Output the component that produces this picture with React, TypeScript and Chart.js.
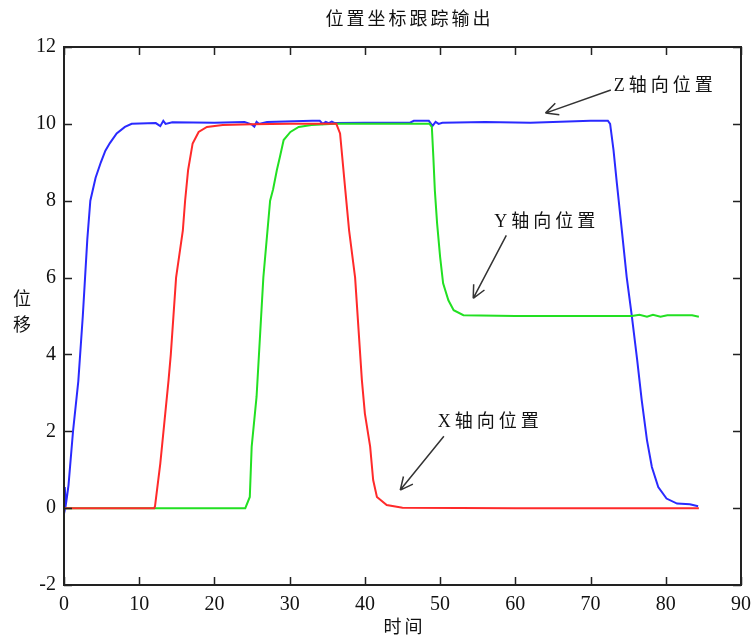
import React, { useEffect, useRef } from "react";
import { Chart, registerables } from "chart.js";

Chart.register(...registerables);

// ---- data ----
const chartTitle = "位置坐标跟踪输出";
const xAxisTitle = "时间";
const yAxisTitle = ["位", "移"];

const xTicks = [0, 10, 20, 30, 40, 50, 60, 70, 80, 90];
const yTicks = [-2, 0, 2, 4, 6, 8, 10, 12];

// X axis position (red)
const tX = [0, 12.0, 12.1, 12.8, 13.9, 14.2, 14.9, 15.8, 16.1, 16.5, 17.1, 17.9, 19.0, 21.1, 25, 30, 36.2, 36.7, 37.4, 37.9, 38.7, 39.6, 40.0, 40.7, 41.1, 41.6, 42.9, 45.0, 60, 84.4];
const xPos = [0, 0, 0.05, 1.16, 3.33, 4.0, 6.0, 7.23, 8.0, 8.8, 9.49, 9.79, 9.92, 9.97, 9.99, 10.0, 10.0, 9.75, 8.27, 7.23, 6.0, 3.33, 2.46, 1.6, 0.73, 0.29, 0.08, 0.01, 0, 0];

// Y axis position (green)
const tY = [0, 24.1, 24.7, 24.95, 25.6, 26.5, 27.4, 27.8, 28.3, 28.7, 29.2, 30.1, 31.2, 32.9, 36, 40, 48.6, 48.9, 49.1, 49.3, 49.6, 50.0, 50.4, 51.1, 51.8, 53.1, 60, 70, 75.5, 76.5, 77.5, 78.3, 79.3, 80.2, 83.5, 84.4];
const yPos = [0, 0, 0.29, 1.6, 2.9, 6.0, 8.0, 8.3, 8.8, 9.14, 9.58, 9.79, 9.92, 9.97, 10.0, 10.0, 10.0, 9.92, 9.14, 8.27, 7.41, 6.54, 5.85, 5.41, 5.15, 5.02, 5.0, 5.0, 5.0, 5.03, 4.98, 5.03, 4.98, 5.02, 5.02, 4.98];

// Z axis position (blue)
const tZ = [0, 0.1, 0.25, 0.4, 0.6, 1.2, 1.9, 2.5, 2.8, 3.1, 3.5, 4.2, 4.9, 5.5, 6.1, 7.0, 8.1, 9.0, 12.2, 12.8, 13.2, 13.5, 14.4, 20, 24, 25.0, 25.3, 25.6, 25.9, 27, 33, 34, 34.4, 34.8, 35.2, 35.6, 36, 40, 46, 46.5, 48.5, 49.0, 49.4, 49.8, 50.3, 56, 62, 70, 72.3, 72.6, 73.05, 73.5, 74.2, 74.8, 75.5, 76.2, 76.8, 77.5, 78.15, 79.0, 80.1, 81.5, 83.2, 84.3];
const zPos = [0, 0.55, 0.1, 0.3, 0.6, 2.0, 3.3, 5.0, 6.0, 7.0, 8.0, 8.6, 9.0, 9.3, 9.5, 9.75, 9.92, 10.0, 10.02, 9.94, 10.08, 10.0, 10.04, 10.03, 10.05, 9.98, 9.93, 10.05, 10.0, 10.05, 10.08, 10.08, 10.0, 10.05, 10.02, 10.06, 10.02, 10.03, 10.03, 10.08, 10.08, 9.95, 10.05, 10.0, 10.03, 10.05, 10.03, 10.08, 10.08, 10.0, 9.32, 8.45, 7.15, 6.02, 4.98, 3.85, 2.81, 1.77, 1.07, 0.55, 0.25, 0.12, 0.1, 0.05];

// annotations: label text, label anchor (data units), arrow start and tip (data units)
const noteTexts = ["Z轴向位置", "Y轴向位置", "X轴向位置"];
const noteLabelX = [73.1, 57.2, 49.7];
const noteLabelY = [10.98, 7.44, 2.24];
const arrowFromX = [72.7, 58.8, 50.5];
const arrowFromY = [10.88, 7.1, 1.87];
const arrowToX = [64.0, 54.4, 44.7];
const arrowToY = [10.28, 5.46, 0.47];

const SERIF = "'Liberation Serif', 'Noto Sans CJK SC', serif";

const toPoints = (t: number[], v: number[]) => t.map((x, i) => ({ x, y: v[i] }));

const decorPlugin = {
  id: "decor",
  afterDraw(chart: any) {
    const { ctx, chartArea: a, scales } = chart;
    const xs = scales.x;
    const ys = scales.y;
    ctx.save();
    // frame
    ctx.strokeStyle = "#222";
    ctx.lineWidth = 2;
    ctx.strokeRect(a.left, a.top, a.right - a.left, a.bottom - a.top);
    // inward ticks
    const tl = 8;
    ctx.lineWidth = 1.5;
    ctx.beginPath();
    xTicks.forEach((v) => {
      const px = Math.round(xs.getPixelForValue(v)) + 0.5;
      ctx.moveTo(px, a.bottom);
      ctx.lineTo(px, a.bottom - tl);
      ctx.moveTo(px, a.top);
      ctx.lineTo(px, a.top + tl);
    });
    yTicks.forEach((v) => {
      const py = Math.round(ys.getPixelForValue(v)) + 0.5;
      ctx.moveTo(a.left, py);
      ctx.lineTo(a.left + tl, py);
      ctx.moveTo(a.right, py);
      ctx.lineTo(a.right - tl, py);
    });
    ctx.stroke();

    // titles
    ctx.fillStyle = "#111";
    ctx.font = `18px ${SERIF}`;
    ctx.textBaseline = "middle";
    const cx = (a.left + a.right) / 2;
    (ctx as any).letterSpacing = "3px";
    ctx.textAlign = "center";
    ctx.fillText(chartTitle, cx + 7, 20);
    ctx.fillText(xAxisTitle, cx + 2, 628);
    (ctx as any).letterSpacing = "0px";
    yAxisTitle.forEach((ch, i) => {
      ctx.fillText(ch, 22, 300 + i * 26);
    });

    // annotations
    ctx.textAlign = "left";
    ctx.font = `18px ${SERIF}`;
    (ctx as any).letterSpacing = "4px";
    noteTexts.forEach((txt, i) => {
      const lx = xs.getPixelForValue(noteLabelX[i]);
      const ly = ys.getPixelForValue(noteLabelY[i]);
      ctx.fillStyle = "#111";
      ctx.fillText(txt, lx, ly);
    });
    (ctx as any).letterSpacing = "0px";
    noteTexts.forEach((_, i) => {
      const x0 = xs.getPixelForValue(arrowFromX[i]);
      const y0 = ys.getPixelForValue(arrowFromY[i]);
      const x1 = xs.getPixelForValue(arrowToX[i]);
      const y1 = ys.getPixelForValue(arrowToY[i]);
      ctx.strokeStyle = "#333";
      ctx.lineWidth = 1.5;
      ctx.beginPath();
      ctx.moveTo(x0, y0);
      ctx.lineTo(x1, y1);
      const ang = Math.atan2(y0 - y1, x0 - x1);
      const hl = 14;
      const spread = 0.45;
      ctx.moveTo(x1, y1);
      ctx.lineTo(x1 + hl * Math.cos(ang + spread), y1 + hl * Math.sin(ang + spread));
      ctx.moveTo(x1, y1);
      ctx.lineTo(x1 + hl * Math.cos(ang - spread), y1 + hl * Math.sin(ang - spread));
      ctx.stroke();
    });
    ctx.restore();
  },
};

export default function App() {
  const ref = useRef<HTMLCanvasElement | null>(null);
  useEffect(() => {
    if (!ref.current) return;
    const chart = new Chart(ref.current, {
      type: "line",
      data: {
        datasets: [
          {
            label: "X",
            data: toPoints(tX, xPos),
            borderColor: "#ff2a2a",
            borderWidth: 2,
            pointRadius: 0,
            tension: 0,
          },
          {
            label: "Y",
            data: toPoints(tY, yPos),
            borderColor: "#22e022",
            borderWidth: 2,
            pointRadius: 0,
            tension: 0,
          },
          {
            label: "Z",
            data: toPoints(tZ, zPos),
            borderColor: "#2a2aff",
            borderWidth: 2,
            pointRadius: 0,
            tension: 0,
          },
        ],
      },
      options: {
        animation: false,
        responsive: false,
        maintainAspectRatio: false,
        layout: { padding: { top: 47, right: 14, bottom: 0, left: 0 } },
        plugins: {
          legend: { display: false },
          title: { display: false },
          tooltip: { enabled: false },
        },
        scales: {
          x: {
            type: "linear",
            min: 0,
            max: 90,
            grid: { display: false, drawTicks: false },
            border: { display: false },
            afterFit: (s: any) => {
              s.height = 55;
              s.paddingLeft = 0;
              s.paddingRight = 0;
            },
            ticks: {
              stepSize: 10,
              padding: 8,
              color: "#111",
              font: { family: SERIF, size: 20 },
              maxRotation: 0,
            },
          },
          y: {
            type: "linear",
            min: -2,
            max: 12,
            grid: { display: false, drawTicks: false },
            border: { display: false },
            afterFit: (s: any) => {
              s.width = 64;
              s.paddingTop = 0;
              s.paddingBottom = 0;
            },
            ticks: {
              stepSize: 2,
              padding: 8,
              color: "#111",
              font: { family: SERIF, size: 20 },
            },
          },
        },
      },
      plugins: [decorPlugin],
    });
    return () => chart.destroy();
  }, []);
  return (
    <div style={{ position: "absolute", left: 0, top: 0, width: 755, height: 640, background: "#fff" }}>
      <canvas ref={ref} width={755} height={640} style={{ width: 755, height: 640 }} />
    </div>
  );
}
